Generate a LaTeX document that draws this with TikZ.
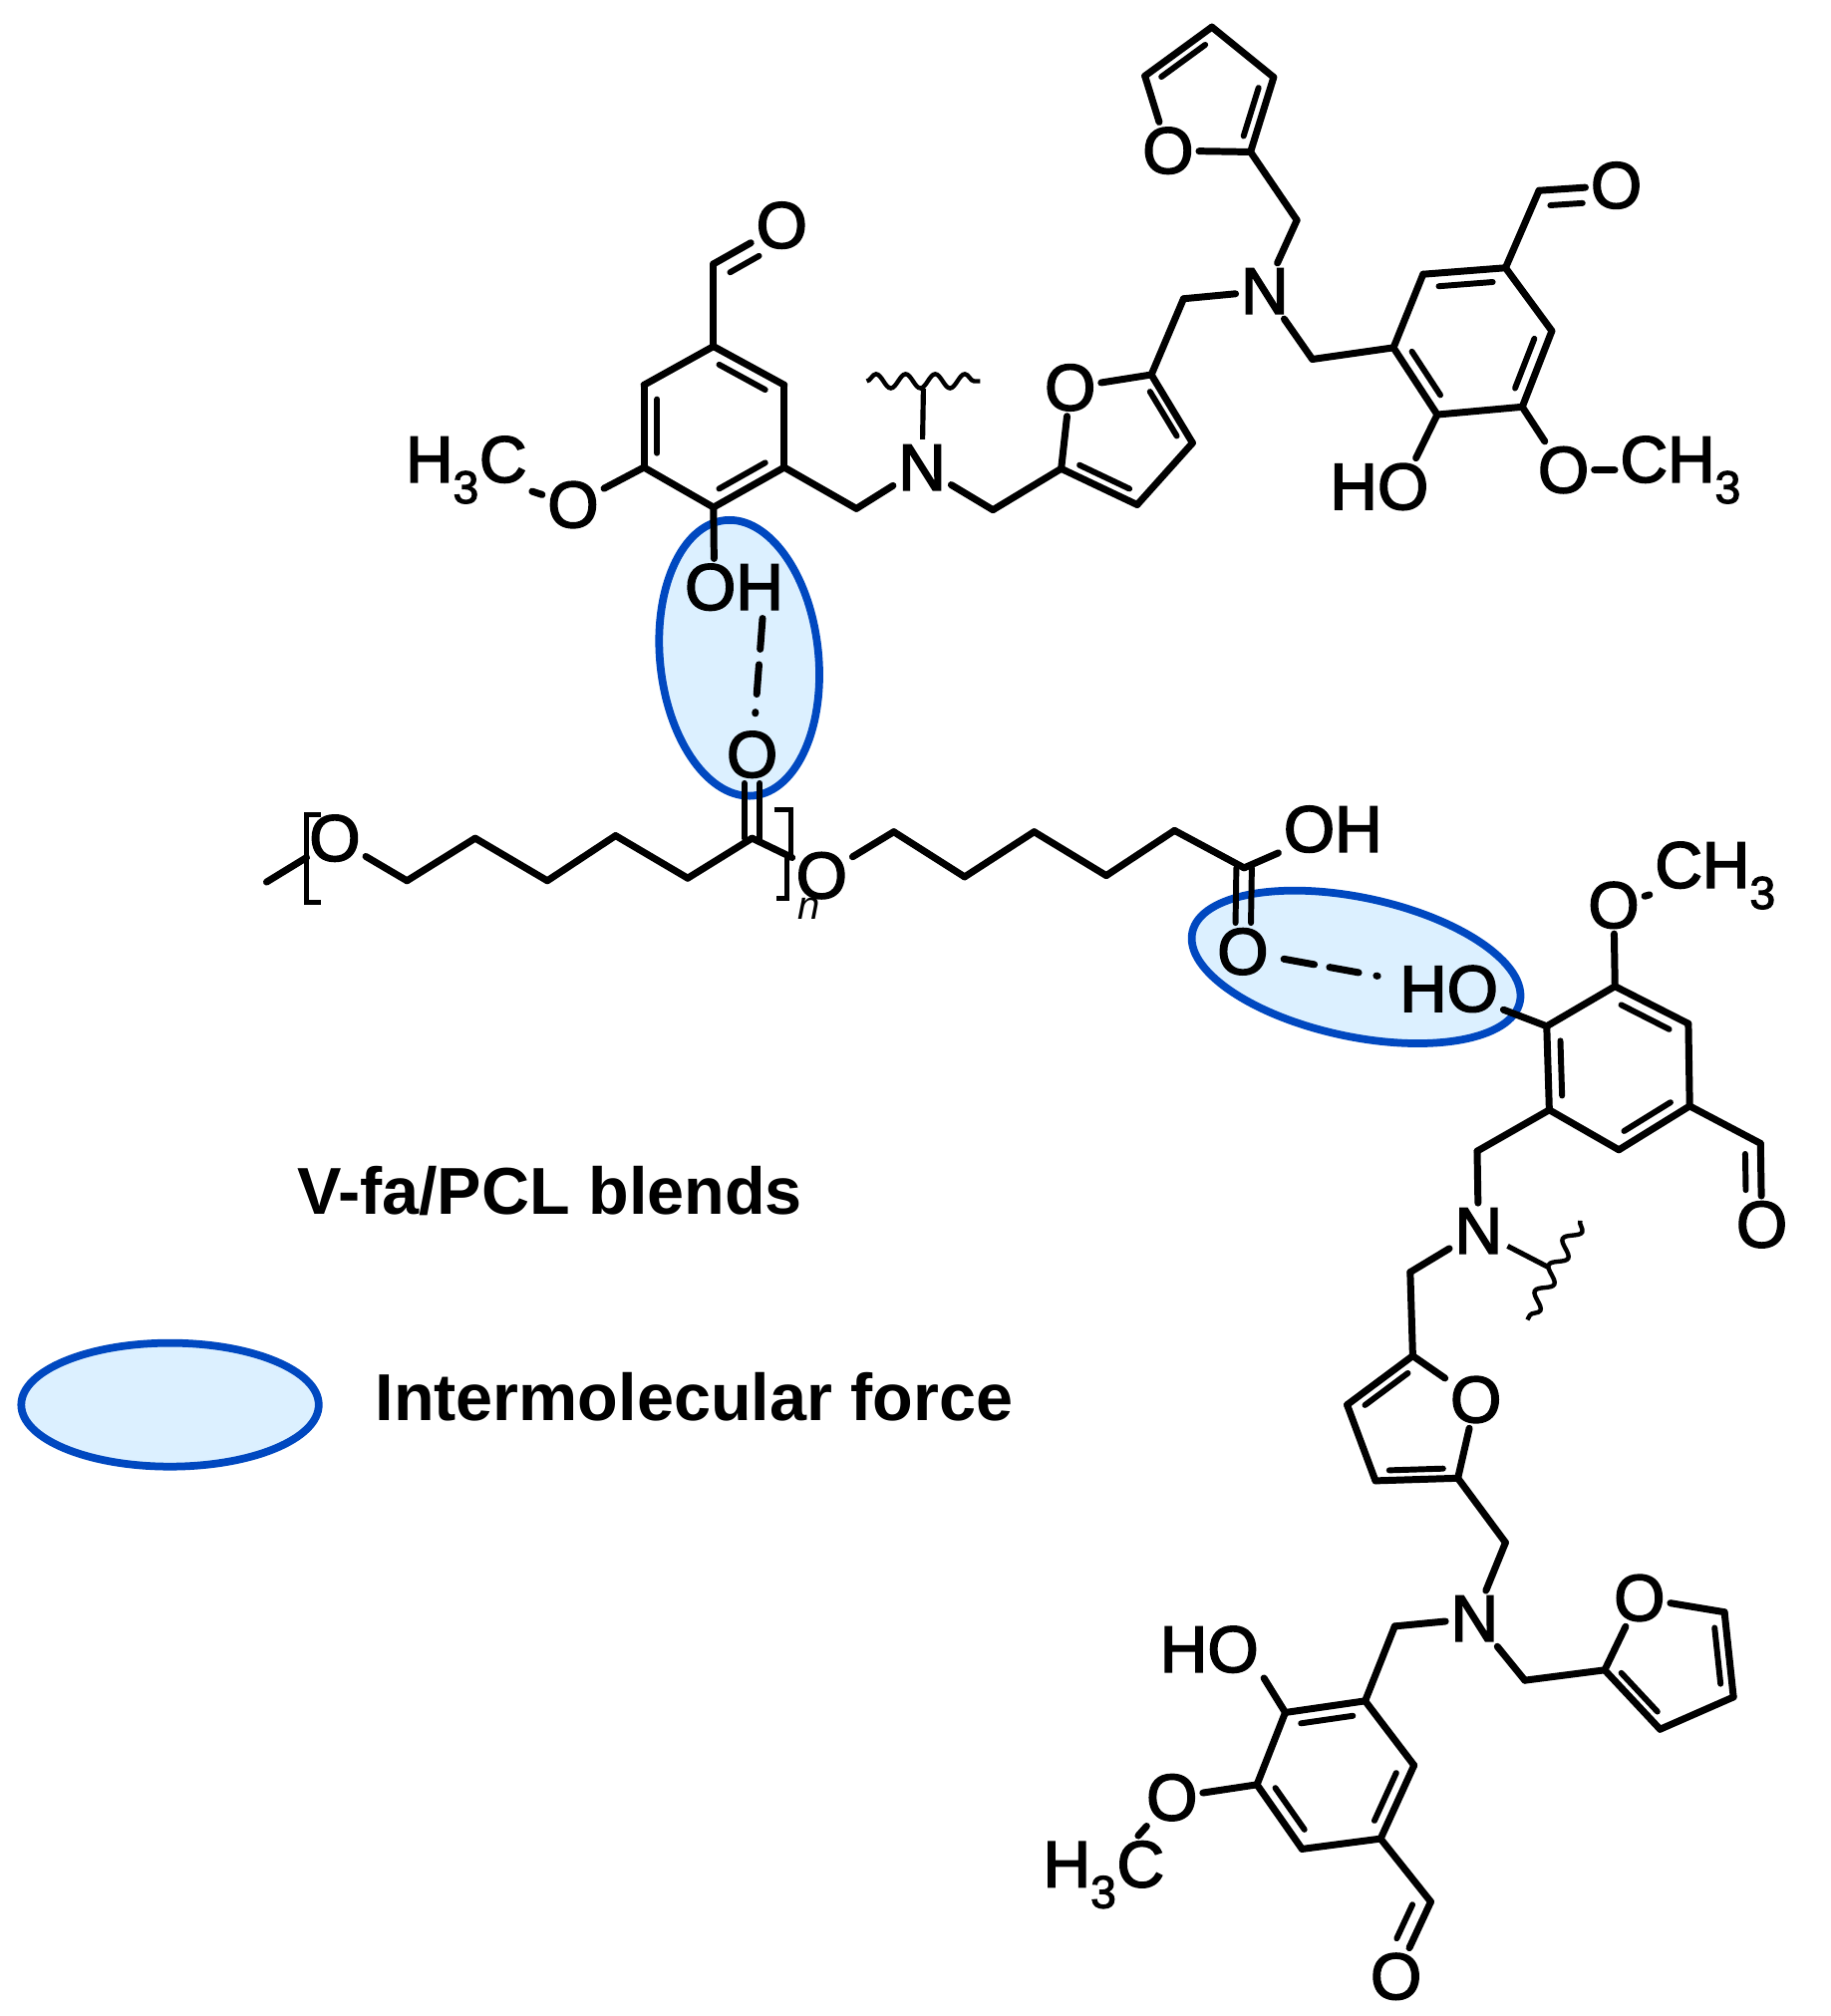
\documentclass[tikz,border=0pt]{standalone}
\usepackage{fontspec}
\setmainfont{Liberation Sans}
\newfontfamily\atomfont{Liberation Sans}[FakeBold=2.5]
\usetikzlibrary{calc,shapes.geometric,decorations.pathmorphing}
\definecolor{blobblue}{HTML}{0048C0}
\definecolor{blobfill}{HTML}{DCF0FF}
\tikzset{
	bond/.style={line width=5.4pt, line join=miter, line cap=round},
	inbond/.style={line width=4.6pt, line cap=round},
	atom/.style={inner sep=4pt, font=\atomfont\fontsize{51}{51}\selectfont},
	blob/.style={ellipse, draw=blobblue, fill=blobfill, line width=6pt, inner sep=0pt},
	wavy/.style={line width=3.4pt, decorate, decoration={snake, amplitude=5.5pt, segment length=23pt}},
	hbond/.style={line width=5.4pt, line cap=round, dash pattern=on 24pt off 12pt on 23pt off 14pt on 1pt off 60pt},
	caption/.style={inner sep=0pt, font=\fontsize{51.5}{52}\selectfont\bfseries}
}
\begin{document}
\begin{tikzpicture}[x=1pt,y=-1pt]
	\useasboundingbox (0,0) rectangle (1421,1565.7);
	% force regions
	\node [blob, minimum width=215pt, minimum height=123pt, rotate=96] (f1) at (574,511) {};
	\node [blob, minimum width=260pt, minimum height=108pt, rotate=-12] (f2) at (1053,751) {};
	\node [blob, minimum width=231pt, minimum height=96pt] (f3) at (132,1091) {};
	% captions
	\node [caption] (t1) at (427,925) {V-fa/PCL blends};
	\node [caption] (t2) at (539,1085) {Intermolecular force};
	% vanillin ring, top left
	\coordinate (ra) at (554,331);
	\coordinate (a1) at (554,269);
	\coordinate (a2) at (609,299);
	\coordinate (a3) at (609,363);
	\coordinate (a4) at (554,394);
	\coordinate (a5) at (500,363);
	\coordinate (a6) at (500,299);
	\coordinate (a7) at (554,205);
	\coordinate (a8) at (665,395);
	\coordinate (a9) at (771,396);
	\node [atom] (ao1) at (607,175) {O};
	\node [atom] (ao2) at (445,392) {O};
	\node [atom] (ame) at (362,365) {H\textsubscript{3}C};
	\node [atom] (aoh) at (570,456) {OH};
	\node [atom] (n1) at (716,363) {N};
	% furan, middle
	\coordinate (rb) at (875,338);
	\coordinate (b2) at (894,291);
	\coordinate (b3) at (926,344);
	\coordinate (b4) at (883,392);
	\coordinate (b5) at (824,364);
	\coordinate (b6) at (919,232);
	\node [atom] (bo) at (831,301) {O};
	\node [atom] (n2) at (982,226) {N};
	% furan, top
	\coordinate (rc) at (935,78);
	\coordinate (c2) at (971,118);
	\coordinate (c3) at (989,60);
	\coordinate (c4) at (941,21);
	\coordinate (c5) at (889,59);
	\coordinate (c6) at (1007,171);
	\node [atom] (co) at (907,117) {O};
	% ring, top right
	\coordinate (rd) at (1143,264);
	\coordinate (d1) at (1082,270);
	\coordinate (d2) at (1105,213);
	\coordinate (d3) at (1169,208);
	\coordinate (d4) at (1205,257);
	\coordinate (d5) at (1182,316);
	\coordinate (d6) at (1116,322);
	\coordinate (d7) at (1195,148);
	\coordinate (d8) at (1019,279);
	\node [atom] (do1) at (1255,144) {O};
	\node [atom] (do2) at (1214,365) {O};
	\node [atom] (dme) at (1305,365) {CH\textsubscript{3}};
	\node [atom] (dho) at (1071,378) {HO};
	% PCL chain
	\coordinate (s1) at (207,685);
	\coordinate (s2) at (238,666);
	\coordinate (e1) at (316,684);
	\coordinate (e2) at (369,651);
	\coordinate (e3) at (425,684);
	\coordinate (e4) at (478,649);
	\coordinate (e5) at (534,682);
	\coordinate (e6) at (584,651);
	\coordinate (e7) at (615,666);
	\coordinate (g1) at (694,646);
	\coordinate (g2) at (749,681);
	\coordinate (g3) at (803,646);
	\coordinate (g4) at (859,680);
	\coordinate (g5) at (912,645);
	\coordinate (g6) at (966,674);
	\node [atom] (eo1) at (260,651) {O};
	\node [atom] (eo2) at (584,586) {O};
	\node [atom] (eo3) at (638,680) {O};
	\node [atom] (goh) at (1035,644) {OH};
	\node [atom] (go) at (965,739) {O};
	% ring, right
	\coordinate (rh) at (1256,830);
	\coordinate (h1) at (1254,766);
	\coordinate (h2) at (1311,795);
	\coordinate (h3) at (1312,859);
	\coordinate (h4) at (1257,893);
	\coordinate (h5) at (1203,862);
	\coordinate (h6) at (1201,797);
	\coordinate (h7) at (1367,888);
	\coordinate (h8) at (1147,894);
	\coordinate (h9) at (1095,988);
	\node [atom] (ho1) at (1253,703) {O};
	\node [atom] (hme) at (1332,680) {CH\textsubscript{3}};
	\node [atom] (hho) at (1125,768) {HO};
	\node [atom] (ho2) at (1368,951) {O};
	\node [atom] (n3) at (1148,956) {N};
	% furan, lower
	\coordinate (ri) at (1098,1108);
	\coordinate (i1) at (1097,1053);
	\coordinate (i3) at (1132,1148);
	\coordinate (i4) at (1068,1150);
	\coordinate (i5) at (1046,1091);
	\coordinate (i6) at (1169,1198);
	\node [atom] (io) at (1146,1087) {O};
	\node [atom] (n4) at (1145,1257) {N};
	% furan, bottom right
	\coordinate (rj) at (1296,1290);
	\coordinate (j2) at (1339,1252);
	\coordinate (j3) at (1346,1318);
	\coordinate (j4) at (1289,1343);
	\coordinate (j5) at (1246,1297);
	\coordinate (j6) at (1184,1305);
	\node [atom] (jo) at (1273,1241) {O};
	% ring, bottom
	\coordinate (rk) at (1036,1378);
	\coordinate (k1) at (1060,1321);
	\coordinate (k2) at (998,1330);
	\coordinate (k3) at (976,1386);
	\coordinate (k4) at (1011,1436);
	\coordinate (k5) at (1072,1428);
	\coordinate (k6) at (1098,1371);
	\coordinate (k7) at (1111,1477);
	\coordinate (k8) at (1083,1263);
	\node [atom] (kho) at (939,1281) {HO};
	\node [atom] (ko1) at (910,1396) {O};
	\node [atom] (kme) at (857,1456) {H\textsubscript{3}C};
	\node [atom] (ko2) at (1084,1535) {O};
	% single bonds
	\foreach \from/\to in {
		a1/a2, a2/a3, a3/a4, a4/a5, a5/a6, a6/a1, a1/a7, a7/ao1, a5/ao2, ao2/ame, a4/aoh.125,
		a3/a8, a8/n1, n1/a9, a9/b5, b5/bo, bo/b2, b2/b3, b3/b4, b4/b5, b2/b6, b6/n2,
		n2/c6, c6/c2, c2/co, co/c5, c5/c4, c4/c3, c3/c2,
		n2/d8, d8/d1, d1/d2, d2/d3, d3/d4, d4/d5, d5/d6, d6/d1, d3/d7, d7/do1, d5/do2, do2/dme, d6/dho.38,
		s1/s2, eo1/e1, e1/e2, e2/e3, e3/e4, e4/e5, e5/e6, e6/e7, eo3/g1, g1/g2, g2/g3, g3/g4, g4/g5, g5/g6, g6/goh,
		h1/h2, h2/h3, h3/h4, h4/h5, h5/h6, h6/h1, h1/ho1, ho1/hme, h6/hho, h3/h7, h7/ho2, h5/h8, h8/n3, n3/h9, h9/i1,
		i1/io, io/i3, i3/i4, i4/i5, i5/i1, i3/i6, i6/n4,
		n4/j6, j6/j5, j5/jo, jo/j2, j2/j3, j3/j4, j4/j5,
		n4/k8, k8/k1, k1/k2, k2/k3, k3/k4, k4/k5, k5/k6, k6/k1, k2/kho.south east, k3/ko1, ko1/kme, k5/k7, k7/ko2}
	\draw [bond] (\from) to (\to);
	% inner lines of the rings
	\foreach \from/\to/\ctr in {
		a1/a2/ra, a3/a4/ra, a5/a6/ra, b2/b3/rb, b4/b5/rb, c2/c3/rc, c4/c5/rc,
		d1/d6/rd, d2/d3/rd, d4/d5/rd, h1/h2/rh, h3/h4/rh, h5/h6/rh,
		i1/i5/ri, i3/i4/ri, j2/j3/rj, j4/j5/rj, k1/k2/rk, k3/k4/rk, k5/k6/rk}
	\draw [inbond, shorten >=5pt, shorten <=5pt] ($(\from)!.19!(\ctr)$) to ($(\to)!.19!(\ctr)$);
	% second lines of the aldehydes
	\foreach \from/\to/\side in {a7/ao1/-90, d7/do1/-90, h7/ho2/-90, k7/ko2/-90}
	\draw [inbond, shorten >=27pt, shorten <=8pt] ($(\from)!12pt!\side:(\to)$) to ($(\to)!12pt!-\side:(\from)$);
	% carbonyls
	\foreach \shift in {-6pt,6pt} {
		\draw [inbond, transform canvas={xshift=\shift}] (e6) to (eo2);
		\draw [inbond, transform canvas={xshift=\shift}] (g6) to (go);
	}
	% brackets
	\draw [line width=4pt] (249,633) -- (238,633) -- (238,701) -- (249,701);
	\draw [line width=4pt] (601,629) -- (614,629) -- (614,664);
	\draw [line width=4pt] (611,664) -- (611,698) -- (603,698);
	\node [atom, font=\fontsize{31}{31}\selectfont\itshape] (en) at (628,706) {n};
	% hydrogen bonds
	\draw [hbond, shorten <=2pt] (aoh.-45) to (eo2);
	\draw [hbond, shorten <=8pt] (go) to (hho);
	% wavy ends
	\coordinate (w1) at (673,296);
	\coordinate (w2) at (761,296);
	\coordinate (w3) at (717,302);
	\coordinate (w4) at (1227,948);
	\coordinate (w5) at (1186,1025);
	\coordinate (w6) at (1202,984);
	\draw [wavy] (w1) to (w2);
	\draw [wavy] (w4) to (w5);
	\foreach \from/\to in {n1/w3, n3/w6}
	\draw [line width=4pt] (\from) to (\to);
\end{tikzpicture}
\end{document}
